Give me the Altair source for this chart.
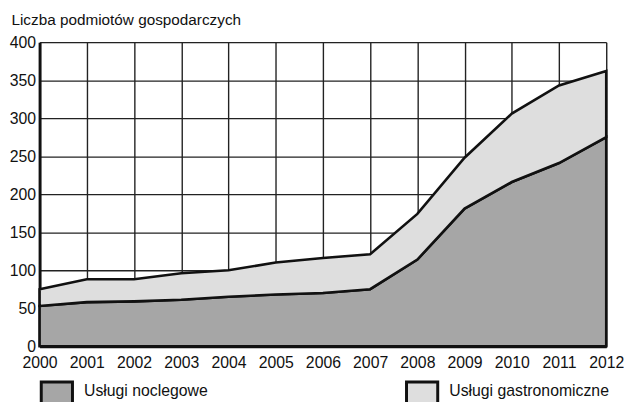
import altair as alt
import pandas as pd

years = [2000, 2001, 2002, 2003, 2004, 2005, 2006, 2007, 2008, 2009, 2010, 2011, 2012]
noclegowe = [53, 58, 59, 61, 65, 68, 70, 75, 114, 181, 216, 241, 275]
gastronomiczne = [22, 30, 29, 35, 35, 42, 46, 46, 60, 67, 90, 102, 87]
series_names = ["Usługi noclegowe", "Usługi gastronomiczne"]
series_colors = ["#a6a6a6", "#dedede"]
y_ticks = [0, 50, 100, 150, 200, 250, 300, 350, 400]

rows = []
for i, y in enumerate(years):
    rows.append({"rok": y, "seria": series_names[0], "wartosc": noclegowe[i], "ord": 0})
    rows.append({"rok": y, "seria": series_names[1], "wartosc": gastronomiczne[i], "ord": 1})
df = pd.DataFrame(rows)

FONT = "Liberation Sans, Arial, sans-serif"

chart = alt.Chart(df).mark_area(
    stroke="#111111", strokeWidth=2.6, strokeJoin="miter", interpolate="linear"
).encode(
    x=alt.X("rok:Q", scale=alt.Scale(domain=[2000, 2012], nice=False, zero=False),
            axis=alt.Axis(values=years, format="d", title=None, grid=True,
                          gridColor="#222222", gridWidth=1.4, ticks=False,
                          labelFlush=False, labelPadding=9, labelFontSize=16,
                          labelFont=FONT, labelColor="#111111",
                          domainColor="#111111", domainWidth=3)),
    y=alt.Y("wartosc:Q", stack="zero", scale=alt.Scale(domain=[0, 400], nice=False),
            axis=alt.Axis(values=y_ticks, title="Liczba podmiotów gospodarczych",
                          titleAngle=0, titleX=-29, titleY=-18, titleAlign="left",
                          titleBaseline="alphabetic", titleFontSize=15.5,
                          titleFontWeight="normal", titleFont=FONT, titleColor="#111111",
                          grid=True, gridColor="#222222", gridWidth=1.4, ticks=False,
                          labelPadding=4, labelFontSize=16, labelFont=FONT,
                          labelColor="#111111", domainColor="#111111", domainWidth=3)),
    color=alt.Color("seria:N", scale=alt.Scale(domain=series_names, range=series_colors),
                    legend=alt.Legend(title=None, orient="none", legendX=0, legendY=336,
                                      direction="horizontal", columnPadding=194,
                                      symbolType="M-1,-0.6H1V1.4H-1Z", symbolSize=1000,
                                      symbolStrokeColor="#111111", symbolStrokeWidth=3,
                                      labelFontSize=16, labelFont=FONT, labelLimit=400,
                                      labelColor="#111111", labelOffset=10, padding=0)),
    order=alt.Order("ord:Q"),
).properties(
    width=574, height=308,
    padding={"left": 32, "top": 32, "right": 18, "bottom": 60},
    autosize=alt.AutoSizeParams(type="none"),
).configure_view(stroke="#222222", strokeWidth=1.4).configure(background="white")

chart.save("out.html", embed_options={"renderer": "svg", "actions": False})
